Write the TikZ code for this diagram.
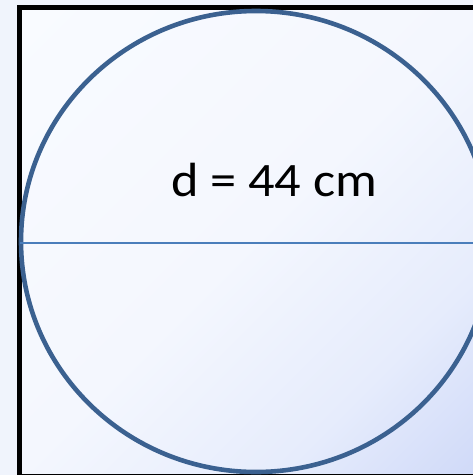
\documentclass[tikz,border=0pt]{standalone}
\usepackage{fontspec}
\setmainfont{Carlito}
\usetikzlibrary{shadings}
\definecolor{bgout}{HTML}{F0F4FC}
\definecolor{sA}{HTML}{F9FBFF}
\definecolor{sB}{HTML}{F4F7FE}
\definecolor{sC}{HTML}{E6ECFC}
\definecolor{sD}{HTML}{CFD9F8}
\definecolor{circ}{HTML}{3B6190}
\definecolor{diam}{HTML}{4A7EBB}
\pgfdeclarehorizontalshading{diagsh}{100bp}{color(0bp)=(sA); color(14.6bp)=(sA); color(50bp)=(sB); color(70bp)=(sC); color(85.4bp)=(sD); color(100bp)=(sD)}
\tikzset{
  frame/.style={draw=black, line width=5pt},
  rim/.style={draw=circ, line width=4.6pt},
  diaml/.style={draw=diam, line width=2.2pt},
  lbl/.style={font=\fontsize{48}{56}\selectfont, inner sep=0pt, anchor=base, text=black}
}
\begin{document}
\begin{tikzpicture}[x=1pt,y=-1pt]
\useasboundingbox (0,0) rectangle (473,475);
\fill[bgout] (0,0) rectangle (473,475);
\shade[shading=diagsh, shading angle=-45] (19.5,7.5) rectangle (480,476.5);
\draw[frame] (19.5,7.5) rectangle (480,476.5);
\draw[rim] (256,241.5) ellipse [x radius=235, y radius=230.5];
\coordinate (dl) at (20,243);
\coordinate (dr) at (480,243);
\draw[diaml] (dl) -- (dr);
\node[lbl, xscale=1.09] (t) at (274,196) {d = 44 cm};
\end{tikzpicture}
\end{document}
